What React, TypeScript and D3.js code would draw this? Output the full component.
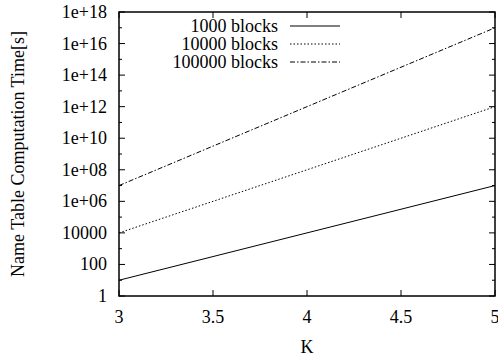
import React from "react";
import { scaleLinear, scaleLog, line } from "d3";

// K values along x
const kValues = [3, 3.5, 4, 4.5, 5];
// computation time per block count
const blocks1000 = [10, 316, 10000, 316000, 1e7];
const blocks10000 = [1e4, 1e6, 1e8, 1e10, 1e12];
const blocks100000 = [1e7, 3.16e9, 1e12, 3.16e14, 1e17];

const seriesNames = ["1000 blocks", "10000 blocks", "100000 blocks"];
const dashes = ["none", "1.5,2", "5,2,1.5,2"];

const xTicks = [3, 3.5, 4, 4.5, 5];
const yTickLabels = ["1", "100", "10000", "1e+06", "1e+08", "1e+10", "1e+12", "1e+14", "1e+16", "1e+18"];

const width = 498,
  height = 356;
const left = 119,
  right = 495,
  top = 12,
  bottom = 296;

// serif face only picked at <=16px here, so draw at 16 and scale up to ~18
function Label({ x, y, anchor = "start", rotate = 0, children }: any) {
  return (
    <text
      transform={`translate(${x},${y}) rotate(${rotate}) scale(1.125)`}
      textAnchor={anchor}
      style={{ fontFamily: '"Liberation Serif"', fontSize: 16 }}
      fill="#000"
    >
      {children}
    </text>
  );
}

export default function App() {
  const x = scaleLinear().domain([3, 5]).range([left, right]);
  const y = scaleLog().domain([1, 1e18]).range([bottom, top]);

  const allSeries = [blocks1000, blocks10000, blocks100000];
  const myLine = line<number>()
    .x((v, i) => x(kValues[i]))
    .y((v) => y(v));

  const decades = Array.from({ length: 19 }, (_, i) => i);

  return (
    <svg width={width} height={height} style={{ position: "absolute", left: 0, top: 0 }}>
      <rect width={width} height={height} fill="white" />
      {/* y ticks: major every 2 decades, minor in between */}
      {decades.map((d) => {
        const yy = y(Math.pow(10, d));
        const len = d % 2 === 0 ? 6 : 3;
        return (
          <g key={"yt" + d} stroke="black" strokeWidth={1}>
            <line x1={left} x2={left + len} y1={yy} y2={yy} />
            <line x1={right} x2={right - len} y1={yy} y2={yy} />
          </g>
        );
      })}
      {yTickLabels.map((t, i) => (
        <Label key={t} x={107} y={y(Math.pow(10, i * 2)) + 6} anchor="end">
          {t}
        </Label>
      ))}
      {xTicks.map((t) => (
        <g key={"xt" + t}>
          <line x1={x(t)} x2={x(t)} y1={bottom} y2={bottom - 6} stroke="black" />
          <line x1={x(t)} x2={x(t)} y1={top} y2={top + 6} stroke="black" />
          <Label x={x(t)} y={323} anchor="middle">
            {t}
          </Label>
        </g>
      ))}
      {allSeries.map((s, i) => (
        <path key={"s" + i} d={myLine(s) || ""} fill="none" stroke="black" strokeWidth={1} strokeDasharray={dashes[i]} />
      ))}
      {/* legend */}
      {seriesNames.map((n, i) => {
        const ly = 26 + i * 18;
        return (
          <g key={n}>
            <Label x={278} y={ly + 6} anchor="end">
              {n}
            </Label>
            <line x1={290} x2={340} y1={ly} y2={ly} stroke="black" strokeDasharray={dashes[i]} />
          </g>
        );
      })}
      <rect x={left} y={top} width={right - left} height={bottom - top} fill="none" stroke="black" strokeWidth={1.5} />
      <Label x={x(4)} y={353} anchor="middle">
        K
      </Label>
      <Label x={24} y={(top + bottom) / 2} anchor="middle" rotate={-90}>
        Name Table Computation Time[s]
      </Label>
    </svg>
  );
}
